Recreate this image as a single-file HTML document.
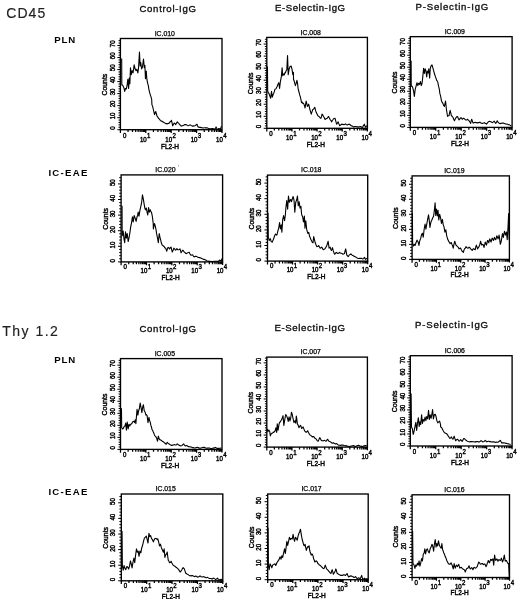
<!DOCTYPE html>
<html lang="en"><head><meta charset="utf-8"><title>Figure</title>
<style>
html,body{margin:0;padding:0;background:#fff;}
body{width:520px;height:599px;overflow:hidden;}
svg{display:block;filter:grayscale(1) blur(0.3px);font-family:"Liberation Sans",sans-serif;}
.ax{stroke:#000;stroke-width:1.35;fill:none;stroke-linecap:square}
.tk{stroke:#000;stroke-width:1.0;fill:none}.tkx{stroke:#000;stroke-width:1.25;fill:none}
.cv{stroke:#000;stroke-width:1.1;fill:none;stroke-linejoin:round}
.tl{font-size:6.5px;fill:#000;stroke:#000;stroke-width:0.4px}
.al{font-size:6.9px;fill:#000;stroke:#000;stroke-width:0.4px}.fl{font-size:6.5px;fill:#000;stroke:#000;stroke-width:0.4px}
.tt{font-size:6.9px;fill:#000;stroke:#000;stroke-width:0.25px}
.ch{font-size:9.6px;fill:#111;stroke:#111;stroke-width:0.35px}
.rl{font-size:9.6px;font-weight:bold;fill:#000}
.big{font-size:14px;fill:#222;stroke:#222;stroke-width:0.15px}
</style></head><body>
<svg width="520" height="599" viewBox="0 0 520 599">
<rect width="520" height="599" fill="#fff"/>
<g><rect class="ax" x="120.4" y="38.5" width="101.6" height="91.2"/><path class="tk" d="M120.4 129.7h-3.1M120.4 127.29h-1.9M120.4 124.89h-1.9M120.4 122.48h-1.9M120.4 120.08h-1.9M120.4 117.67h-3.1M120.4 115.26h-1.9M120.4 112.86h-1.9M120.4 110.45h-1.9M120.4 108.05h-1.9M120.4 105.64h-3.1M120.4 103.23h-1.9M120.4 100.83h-1.9M120.4 98.42h-1.9M120.4 96.02h-1.9M120.4 93.61h-3.1M120.4 91.2h-1.9M120.4 88.8h-1.9M120.4 86.39h-1.9M120.4 83.99h-1.9M120.4 81.58h-3.1M120.4 79.17h-1.9M120.4 76.77h-1.9M120.4 74.36h-1.9M120.4 71.96h-1.9M120.4 69.55h-3.1M120.4 67.14h-1.9M120.4 64.74h-1.9M120.4 62.33h-1.9M120.4 59.93h-1.9M120.4 57.52h-3.1M120.4 55.11h-1.9M120.4 52.71h-1.9M120.4 50.3h-1.9M120.4 47.9h-1.9M120.4 45.49h-3.1M120.4 43.08h-1.9M120.4 40.68h-1.9"/><path class="tkx" d="M120.4 129.7v3.3M128.05 129.7v2.3M132.52 129.7v2.3M135.69 129.7v2.3M138.15 129.7v2.3M140.17 129.7v2.3M141.87 129.7v2.3M143.34 129.7v2.3M144.64 129.7v2.3M145.8 129.7v3.3M153.45 129.7v2.3M157.92 129.7v2.3M161.09 129.7v2.3M163.55 129.7v2.3M165.57 129.7v2.3M167.27 129.7v2.3M168.74 129.7v2.3M170.04 129.7v2.3M171.2 129.7v3.3M178.85 129.7v2.3M183.32 129.7v2.3M186.49 129.7v2.3M188.95 129.7v2.3M190.97 129.7v2.3M192.67 129.7v2.3M194.14 129.7v2.3M195.44 129.7v2.3M196.6 129.7v3.3M204.25 129.7v2.3M208.72 129.7v2.3M211.89 129.7v2.3M214.35 129.7v2.3M216.37 129.7v2.3M218.07 129.7v2.3M219.54 129.7v2.3M220.84 129.7v2.3M222 129.7v3.2"/><text class="tl" transform="translate(114.7 128) rotate(-90) scale(0.94 1)" text-anchor="middle">0</text><text class="tl" transform="translate(114.7 115.97) rotate(-90) scale(0.94 1)" text-anchor="middle">10</text><text class="tl" transform="translate(114.7 103.94) rotate(-90) scale(0.94 1)" text-anchor="middle">20</text><text class="tl" transform="translate(114.7 91.91) rotate(-90) scale(0.94 1)" text-anchor="middle">30</text><text class="tl" transform="translate(114.7 79.88) rotate(-90) scale(0.94 1)" text-anchor="middle">40</text><text class="tl" transform="translate(114.7 67.85) rotate(-90) scale(0.94 1)" text-anchor="middle">50</text><text class="tl" transform="translate(114.7 55.82) rotate(-90) scale(0.94 1)" text-anchor="middle">60</text><text class="tl" transform="translate(114.7 43.79) rotate(-90) scale(0.94 1)" text-anchor="middle">70</text><text class="al" transform="translate(106.9 84.6) rotate(-90)" text-anchor="middle">Counts</text><text class="tl" transform="translate(124.6 137.7) scale(0.94 1)" text-anchor="middle">0</text><text class="tl" transform="translate(146.7 141.6) scale(0.94 1)" text-anchor="end">10</text><text class="tl" transform="translate(147 137.7) scale(0.94 1)">1</text><text class="tl" transform="translate(172.1 141.6) scale(0.94 1)" text-anchor="end">10</text><text class="tl" transform="translate(172.4 137.7) scale(0.94 1)">2</text><text class="tl" transform="translate(197.5 141.6) scale(0.94 1)" text-anchor="end">10</text><text class="tl" transform="translate(197.8 137.7) scale(0.94 1)">3</text><text class="tl" transform="translate(222.9 141.6) scale(0.94 1)" text-anchor="end">10</text><text class="tl" transform="translate(223.2 137.7) scale(0.94 1)">4</text><text class="fl" x="170" y="148.6" text-anchor="middle">FL2-H</text><text class="tt" x="164.8" y="35.8" text-anchor="middle">IC.010</text><polyline class="cv" points="121.69,58.46 121.81,85 122.5,85.13 123.19,86.15 123.94,87.91 124.69,91.35 125.5,88.46 126.31,89.04 127.23,84.42 127.81,79.23 128.62,88.46 129.19,78.08 129.88,83.85 130.46,67.69 131.27,74.62 132.08,70.58 133,72.88 133.58,69.36 134.15,64.81 135.08,68.85 135.88,70.58 136.81,69.42 137.85,72.88 138.54,67.69 139.46,52.12 140.15,65.96 140.73,62.5 141.65,68.85 142.46,67.12 143.5,59.04 144.31,67.69 144.88,65.38 145.46,78.65 146.27,71.15 146.85,79.23 147.77,83.85 148.35,85.66 148.92,89.62 149.62,92.29 150.31,94.81 151,96.85 151.69,99.42 151.92,104.62 152.69,106.66 153.46,110 154,112.32 154.54,114.62 155.15,112.53 155.77,111.54 156.38,113.77 157,116.15 157.77,116.89 158.54,118.46 159.15,118.72 159.77,119.63 160.38,120.31 161.15,121.08 161.92,121.04 162.69,121.85 163.46,122.06 164.23,122.76 165,123.08 165.77,123.63 166.54,123.64 167.31,123.85 168.08,123.42 168.85,123.45 169.62,122.77 170.23,121.61 170.85,121.41 171.46,120.31 172.08,122.93 172.69,125.85 173.46,124.24 174.23,123.08 175,123.6 175.77,124.62 176.54,123.1 177.31,121.85 177.92,122.74 178.54,122.96 179.15,123.85 179.82,124.66 180.49,125.46 181.15,126.15 181.92,125.83 182.69,125.67 183.46,125.38 184.23,124.88 185,124.61 185.77,124.62 186.54,124.8 187.31,125.44 188.08,125.69 188.85,125.4 189.62,125.07 190.38,124.92 191.15,125.38 191.92,125.72 192.69,126.15 193.46,125.89 194.23,126.01 195,125.69 195.67,125.34 196.33,124.62 197,124.31 197.54,125.66 198.08,126.92 198.85,127.09 199.62,127.41 200.38,127.38 201.15,127.64 201.92,127.6 202.69,128.06 203.46,128 204.23,127.76 205,127.81 205.77,127.88 206.54,127.69 207.31,127.85 208.08,128.3 208.85,128.43 209.62,128.92 210.38,128.87 211.15,128.8 211.92,128.61 212.69,128.46 213.46,128.87 214.23,128.9 215,129.23 215.54,128.16 216.08,126.92 216.69,128.27 217.31,129.4 218.08,129.03 218.85,128.46 219.62,128.67 220.38,128.92 220.92,127.69 221.46,126.15"/></g><g><rect class="ax" x="266.8" y="37.4" width="100.6" height="90.9"/><path class="tk" d="M266.8 128.3h-3.1M266.8 125.89h-1.9M266.8 123.49h-1.9M266.8 121.08h-1.9M266.8 118.68h-1.9M266.8 116.27h-3.1M266.8 113.86h-1.9M266.8 111.46h-1.9M266.8 109.05h-1.9M266.8 106.65h-1.9M266.8 104.24h-3.1M266.8 101.83h-1.9M266.8 99.43h-1.9M266.8 97.02h-1.9M266.8 94.62h-1.9M266.8 92.21h-3.1M266.8 89.8h-1.9M266.8 87.4h-1.9M266.8 84.99h-1.9M266.8 82.59h-1.9M266.8 80.18h-3.1M266.8 77.77h-1.9M266.8 75.37h-1.9M266.8 72.96h-1.9M266.8 70.56h-1.9M266.8 68.15h-3.1M266.8 65.74h-1.9M266.8 63.34h-1.9M266.8 60.93h-1.9M266.8 58.53h-1.9M266.8 56.12h-3.1M266.8 53.71h-1.9M266.8 51.31h-1.9M266.8 48.9h-1.9M266.8 46.5h-1.9M266.8 44.09h-3.1M266.8 41.68h-1.9M266.8 39.28h-1.9"/><path class="tkx" d="M266.8 128.3v3.3M274.37 128.3v2.3M278.8 128.3v2.3M281.94 128.3v2.3M284.38 128.3v2.3M286.37 128.3v2.3M288.05 128.3v2.3M289.51 128.3v2.3M290.8 128.3v2.3M291.95 128.3v3.3M299.52 128.3v2.3M303.95 128.3v2.3M307.09 128.3v2.3M309.53 128.3v2.3M311.52 128.3v2.3M313.2 128.3v2.3M314.66 128.3v2.3M315.95 128.3v2.3M317.1 128.3v3.3M324.67 128.3v2.3M329.1 128.3v2.3M332.24 128.3v2.3M334.68 128.3v2.3M336.67 128.3v2.3M338.35 128.3v2.3M339.81 128.3v2.3M341.1 128.3v2.3M342.25 128.3v3.3M349.82 128.3v2.3M354.25 128.3v2.3M357.39 128.3v2.3M359.83 128.3v2.3M361.82 128.3v2.3M363.5 128.3v2.3M364.96 128.3v2.3M366.25 128.3v2.3M367.4 128.3v3.2"/><text class="tl" transform="translate(261.1 126.6) rotate(-90) scale(0.94 1)" text-anchor="middle">0</text><text class="tl" transform="translate(261.1 114.57) rotate(-90) scale(0.94 1)" text-anchor="middle">10</text><text class="tl" transform="translate(261.1 102.54) rotate(-90) scale(0.94 1)" text-anchor="middle">20</text><text class="tl" transform="translate(261.1 90.51) rotate(-90) scale(0.94 1)" text-anchor="middle">30</text><text class="tl" transform="translate(261.1 78.48) rotate(-90) scale(0.94 1)" text-anchor="middle">40</text><text class="tl" transform="translate(261.1 66.45) rotate(-90) scale(0.94 1)" text-anchor="middle">50</text><text class="tl" transform="translate(261.1 54.42) rotate(-90) scale(0.94 1)" text-anchor="middle">60</text><text class="tl" transform="translate(261.1 42.39) rotate(-90) scale(0.94 1)" text-anchor="middle">70</text><text class="al" transform="translate(253.3 83.35) rotate(-90)" text-anchor="middle">Counts</text><text class="tl" transform="translate(271 136.3) scale(0.94 1)" text-anchor="middle">0</text><text class="tl" transform="translate(292.85 140.2) scale(0.94 1)" text-anchor="end">10</text><text class="tl" transform="translate(293.15 136.3) scale(0.94 1)">1</text><text class="tl" transform="translate(318 140.2) scale(0.94 1)" text-anchor="end">10</text><text class="tl" transform="translate(318.3 136.3) scale(0.94 1)">2</text><text class="tl" transform="translate(343.15 140.2) scale(0.94 1)" text-anchor="end">10</text><text class="tl" transform="translate(343.45 136.3) scale(0.94 1)">3</text><text class="tl" transform="translate(368.3 140.2) scale(0.94 1)" text-anchor="end">10</text><text class="tl" transform="translate(368.6 136.3) scale(0.94 1)">4</text><text class="fl" x="315.9" y="147.2" text-anchor="middle">FL2-H</text><text class="tt" x="310.7" y="34.7" text-anchor="middle">IC.008</text><polyline class="cv" points="267.46,66.54 267.69,90.77 268.27,92.89 268.85,93.08 269.42,94.76 270,96.54 270.69,98.27 271.5,91.35 272.31,97.12 273.23,94.23 273.81,93.14 274.38,91.35 274.96,89.2 275.54,89.04 276.12,88.65 276.69,87.31 277.27,86.23 277.85,84.42 278.77,82.69 279.58,88.46 280.38,81.54 281.31,76.92 282.12,67.69 282.69,75.77 283.62,74.04 284.19,74.99 284.77,72.88 285.35,73.04 285.92,71.15 286.85,69.42 287.54,55.58 288.23,74.62 289.15,68.85 290.08,66.54 291.12,65.96 292.04,69.42 292.85,74.62 293.42,72.31 293.54,79.54 294.15,81.01 294.77,83.35 295.38,85.69 296.15,83.44 296.92,80.31 297.54,83.33 298.15,88.77 298.92,91.76 299.69,94.92 300.31,96.86 300.92,99.38 301.54,102.62 302.21,102.16 302.87,103.56 303.54,103.38 304.31,105.14 305.08,108 305.62,104.15 306.15,101.08 306.77,103.6 307.38,106.46 308,105.86 308.62,104.15 309.15,105.86 309.69,108.77 310.46,111.4 311.23,114.15 312,111.9 312.77,109.54 313.44,109.28 314.1,108.44 314.77,107.23 315.54,110.38 316.31,112.62 317.08,113.92 317.85,115.69 318.46,116.12 319.08,116.59 319.69,117.23 320.31,118.11 320.92,118.31 321.46,116.67 322,114.15 322.77,114.96 323.54,116.46 324.31,117.72 325.08,119.54 325.74,118.91 326.41,118.5 327.08,118.31 327.85,117.37 328.62,116.46 329.38,118.08 330.15,119.54 330.92,120.52 331.69,121.85 332.31,120.46 332.92,119.73 333.54,118.77 334.31,118.43 335.08,118.31 335.85,121.28 336.62,124.15 337.38,123.28 338.15,121.85 338.92,123.88 339.69,125.69 340.31,125.19 340.92,124.73 341.54,124.15 342.21,124.4 342.87,124.22 343.54,124.62 344.21,124.58 344.87,124.26 345.54,123.85 346.15,124.41 346.77,124.72 347.38,124.92 348,124.61 348.62,124.36 349.23,124.15 349.9,124.46 350.56,125.25 351.23,125.69 352,125.9 352.77,126.32 353.54,126.92 354.31,126.65 355.08,126.47 355.85,126.46 356.62,126.65 357.38,126.79 358.15,127.23 358.92,126.82 359.69,126.67 360.46,126.62 361.13,126.76 361.79,127.18 362.46,127.54 363.08,126.2 363.69,125.47 364.31,124.15 364.92,125.75 365.54,127.23 366.31,126.31 367.08,125.69"/></g><g><rect class="ax" x="410.3" y="36.65" width="101.8" height="90.75"/><path class="tk" d="M410.3 127.4h-3.1M410.3 124.99h-1.9M410.3 122.59h-1.9M410.3 120.18h-1.9M410.3 117.78h-1.9M410.3 115.37h-3.1M410.3 112.96h-1.9M410.3 110.56h-1.9M410.3 108.15h-1.9M410.3 105.75h-1.9M410.3 103.34h-3.1M410.3 100.93h-1.9M410.3 98.53h-1.9M410.3 96.12h-1.9M410.3 93.72h-1.9M410.3 91.31h-3.1M410.3 88.9h-1.9M410.3 86.5h-1.9M410.3 84.09h-1.9M410.3 81.69h-1.9M410.3 79.28h-3.1M410.3 76.87h-1.9M410.3 74.47h-1.9M410.3 72.06h-1.9M410.3 69.66h-1.9M410.3 67.25h-3.1M410.3 64.84h-1.9M410.3 62.44h-1.9M410.3 60.03h-1.9M410.3 57.63h-1.9M410.3 55.22h-3.1M410.3 52.81h-1.9M410.3 50.41h-1.9M410.3 48h-1.9M410.3 45.6h-1.9M410.3 43.19h-3.1M410.3 40.78h-1.9M410.3 38.38h-1.9"/><path class="tkx" d="M410.3 127.4v3.3M417.96 127.4v2.3M422.44 127.4v2.3M425.62 127.4v2.3M428.09 127.4v2.3M430.1 127.4v2.3M431.81 127.4v2.3M433.28 127.4v2.3M434.59 127.4v2.3M435.75 127.4v3.3M443.41 127.4v2.3M447.89 127.4v2.3M451.07 127.4v2.3M453.54 127.4v2.3M455.55 127.4v2.3M457.26 127.4v2.3M458.73 127.4v2.3M460.04 127.4v2.3M461.2 127.4v3.3M468.86 127.4v2.3M473.34 127.4v2.3M476.52 127.4v2.3M478.99 127.4v2.3M481 127.4v2.3M482.71 127.4v2.3M484.18 127.4v2.3M485.49 127.4v2.3M486.65 127.4v3.3M494.31 127.4v2.3M498.79 127.4v2.3M501.97 127.4v2.3M504.44 127.4v2.3M506.45 127.4v2.3M508.16 127.4v2.3M509.63 127.4v2.3M510.94 127.4v2.3M512.1 127.4v3.2"/><text class="tl" transform="translate(404.6 125.7) rotate(-90) scale(0.94 1)" text-anchor="middle">0</text><text class="tl" transform="translate(404.6 113.67) rotate(-90) scale(0.94 1)" text-anchor="middle">10</text><text class="tl" transform="translate(404.6 101.64) rotate(-90) scale(0.94 1)" text-anchor="middle">20</text><text class="tl" transform="translate(404.6 89.61) rotate(-90) scale(0.94 1)" text-anchor="middle">30</text><text class="tl" transform="translate(404.6 77.58) rotate(-90) scale(0.94 1)" text-anchor="middle">40</text><text class="tl" transform="translate(404.6 65.55) rotate(-90) scale(0.94 1)" text-anchor="middle">50</text><text class="tl" transform="translate(404.6 53.52) rotate(-90) scale(0.94 1)" text-anchor="middle">60</text><text class="tl" transform="translate(404.6 41.49) rotate(-90) scale(0.94 1)" text-anchor="middle">70</text><text class="al" transform="translate(396.8 82.53) rotate(-90)" text-anchor="middle">Counts</text><text class="tl" transform="translate(414.5 135.4) scale(0.94 1)" text-anchor="middle">0</text><text class="tl" transform="translate(436.65 139.3) scale(0.94 1)" text-anchor="end">10</text><text class="tl" transform="translate(436.95 135.4) scale(0.94 1)">1</text><text class="tl" transform="translate(462.1 139.3) scale(0.94 1)" text-anchor="end">10</text><text class="tl" transform="translate(462.4 135.4) scale(0.94 1)">2</text><text class="tl" transform="translate(487.55 139.3) scale(0.94 1)" text-anchor="end">10</text><text class="tl" transform="translate(487.85 135.4) scale(0.94 1)">3</text><text class="tl" transform="translate(513 139.3) scale(0.94 1)" text-anchor="end">10</text><text class="tl" transform="translate(513.3 135.4) scale(0.94 1)">4</text><text class="fl" x="460" y="146.3" text-anchor="middle">FL2-H</text><text class="tt" x="454.8" y="33.95" text-anchor="middle">IC.009</text><polyline class="cv" points="411.12,60.77 411.23,86.15 411.92,86.14 412.62,87.31 413.54,90.77 414.35,96.54 415.15,89.62 416.08,86.15 417,82.69 417.81,85.58 418.62,83.27 419.54,84.42 420.46,81.54 421.27,85.58 422.08,83.27 422.77,76.92 423.58,68.27 424.38,73.46 425.08,68.85 425.88,70.58 426.69,76.92 427.38,71.15 428.19,72.88 428.77,68.85 429.69,78.08 430.27,68.27 431.08,65.96 432,64.81 432.81,67.69 433.62,70.58 434.54,74.04 435.46,76.92 436.04,78.23 436.62,80.38 437.19,80.89 437.77,82.12 438.58,86.15 439.38,89.62 439.85,93.38 440.62,96.14 441.38,100.31 442.15,102.41 442.92,103.38 443.69,105.65 444.46,106.46 445,103.72 445.54,101.08 446.46,109.54 447,112.98 447.54,116.46 448.31,115.7 449.08,115.69 449.62,112.57 450.15,110.31 450.77,112.83 451.38,115.69 452.15,116.25 452.92,117.23 453.69,119.25 454.46,120.77 455.23,118.97 456,117.69 456.77,116.66 457.54,116.46 458.31,118.52 459.08,119.85 459.69,119.15 460.31,118.13 460.92,117.69 461.69,118.5 462.46,119.23 463.23,118.4 464,118.31 464.77,119.1 465.54,119.85 466.21,119.99 466.87,119.71 467.54,119.23 468.31,120.14 469.08,120.77 469.85,121.93 470.62,123.38 471.15,121.22 471.69,119.23 472.31,120.86 472.92,122.92 473.69,122.88 474.46,122.53 475.23,122.31 476,122.68 476.77,122.62 477.54,122.92 478.31,122.5 479.08,122.6 479.85,122.15 480.62,122.85 481.38,123.18 482.15,123.38 482.92,123.3 483.69,123.06 484.46,122.62 485.13,123.26 485.79,123.49 486.46,124.15 487.08,123.39 487.69,122.53 488.31,121.85 488.92,121.45 489.54,121.34 490.15,121.54 490.82,121.76 491.49,122.11 492.15,122.62 492.82,122.22 493.49,121.88 494.15,121.08 494.92,122.2 495.69,123.38 496.46,122.35 497.23,120.77 498,122.15 498.77,122.92 499.38,123.43 500,123.36 500.62,123.69 501.38,123.33 502.15,123.13 502.92,123.08 503.69,123.17 504.46,123.43 505.23,123.85 506,124.01 506.77,124.26 507.54,124.15 508.31,124.63 509.08,124.76 509.85,125.08 510.62,125.61 511.38,126"/></g><g><rect class="ax" x="121.1" y="174.9" width="101.5" height="87"/><path class="tk" d="M121.1 261.9h-3.1M121.1 258.78h-1.9M121.1 255.66h-1.9M121.1 252.54h-1.9M121.1 249.42h-1.9M121.1 246.3h-3.1M121.1 243.18h-1.9M121.1 240.06h-1.9M121.1 236.94h-1.9M121.1 233.82h-1.9M121.1 230.7h-3.1M121.1 227.58h-1.9M121.1 224.46h-1.9M121.1 221.34h-1.9M121.1 218.22h-1.9M121.1 215.1h-3.1M121.1 211.98h-1.9M121.1 208.86h-1.9M121.1 205.74h-1.9M121.1 202.62h-1.9M121.1 199.5h-3.1M121.1 196.38h-1.9M121.1 193.26h-1.9M121.1 190.14h-1.9M121.1 187.02h-1.9M121.1 183.9h-3.1M121.1 180.78h-1.9M121.1 177.66h-1.9"/><path class="tkx" d="M121.1 261.9v3.3M128.74 261.9v2.3M133.21 261.9v2.3M136.38 261.9v2.3M138.84 261.9v2.3M140.85 261.9v2.3M142.54 261.9v2.3M144.02 261.9v2.3M145.31 261.9v2.3M146.47 261.9v3.3M154.11 261.9v2.3M158.58 261.9v2.3M161.75 261.9v2.3M164.21 261.9v2.3M166.22 261.9v2.3M167.92 261.9v2.3M169.39 261.9v2.3M170.69 261.9v2.3M171.85 261.9v3.3M179.49 261.9v2.3M183.96 261.9v2.3M187.13 261.9v2.3M189.59 261.9v2.3M191.6 261.9v2.3M193.29 261.9v2.3M194.77 261.9v2.3M196.06 261.9v2.3M197.22 261.9v3.3M204.86 261.9v2.3M209.33 261.9v2.3M212.5 261.9v2.3M214.96 261.9v2.3M216.97 261.9v2.3M218.67 261.9v2.3M220.14 261.9v2.3M221.44 261.9v2.3M222.6 261.9v3.2"/><text class="tl" transform="translate(114.8 260.7) rotate(-90) scale(0.94 1)" text-anchor="middle">0</text><text class="tl" transform="translate(114.8 245.1) rotate(-90) scale(0.94 1)" text-anchor="middle">10</text><text class="tl" transform="translate(114.8 229.5) rotate(-90) scale(0.94 1)" text-anchor="middle">20</text><text class="tl" transform="translate(114.8 213.9) rotate(-90) scale(0.94 1)" text-anchor="middle">30</text><text class="tl" transform="translate(114.8 198.3) rotate(-90) scale(0.94 1)" text-anchor="middle">40</text><text class="tl" transform="translate(114.8 182.7) rotate(-90) scale(0.94 1)" text-anchor="middle">50</text><text class="al" transform="translate(107.6 218.9) rotate(-90)" text-anchor="middle">Counts</text><text class="tl" transform="translate(125.3 269.2) scale(0.94 1)" text-anchor="middle">0</text><text class="tl" transform="translate(147.38 273.1) scale(0.94 1)" text-anchor="end">10</text><text class="tl" transform="translate(147.67 269.2) scale(0.94 1)">1</text><text class="tl" transform="translate(172.75 273.1) scale(0.94 1)" text-anchor="end">10</text><text class="tl" transform="translate(173.05 269.2) scale(0.94 1)">2</text><text class="tl" transform="translate(198.12 273.1) scale(0.94 1)" text-anchor="end">10</text><text class="tl" transform="translate(198.42 269.2) scale(0.94 1)">3</text><text class="tl" transform="translate(223.5 273.1) scale(0.94 1)" text-anchor="end">10</text><text class="tl" transform="translate(223.8 269.2) scale(0.94 1)">4</text><text class="fl" x="170.65" y="279.75" text-anchor="middle">FL2-H</text><text class="tt" x="165.45" y="172.2" text-anchor="middle">IC.020</text><polyline class="cv" points="122.04,205.77 122.15,235.77 123.19,231.15 124,239.23 124.69,242.69 125.5,231.73 126.31,238.08 127.23,233.46 128.15,241.54 128.96,238.08 129.54,235.13 130.12,231.15 130.69,226.84 131.27,224.23 131.85,220.87 132.42,216.73 133.23,221.92 134.15,215.58 135.08,217.88 136.12,221.35 137.04,216.73 137.62,215.54 138.19,212.12 139,216.15 139.92,210.38 140.85,206.35 141.65,202.31 142.46,194.81 143.38,199.42 144.31,205.19 144.88,208.37 145.46,209.81 146.27,208.08 147.08,212.12 147.77,215 148.58,207.5 149.38,212.12 150.31,209.81 150.88,211.69 151.46,212.12 152.38,216.73 153.19,223.08 153.38,228.92 153.92,226.18 154.46,223.54 155.23,225.94 156,229.69 156.62,233.67 157.23,236.62 157.77,239.45 158.31,242.77 159.23,233.54 159.92,237.1 160.62,239.69 161.38,243.01 162.15,245.08 162.82,245.47 163.49,245.99 164.15,246.62 164.92,247.87 165.69,248.15 166.23,249.91 166.77,251.23 167.38,248.98 168,247.38 168.77,247.77 169.54,248.92 170.31,247.64 171.08,247.08 171.69,249.93 172.31,252 173.08,250.37 173.85,248.15 174.62,248.8 175.38,250.15 176.15,249.7 176.92,248.62 177.69,249.63 178.46,249.69 179.23,249.46 180,248.92 180.54,250.71 181.08,252.77 181.85,251.5 182.62,250.15 183.38,250.75 184.15,252 184.92,252.38 185.69,253.54 186.36,253.65 187.03,253.14 187.69,252.77 188.46,252.56 189.23,252.31 190,254.02 190.77,255.08 191.38,254.93 192,255.13 192.62,254.77 193.38,256.06 194.15,256.92 194.77,256.54 195.38,256.36 196,256.31 196.67,256.54 197.33,256.87 198,257.38 198.77,257.59 199.54,257.56 200.31,257.85 201.08,258.16 201.85,258.37 202.62,258.92 203.38,259.38 204.15,259.37 204.92,259.69 205.69,260.08 206.46,260.55 207.23,260.92 208,261.18 208.77,261.1 209.54,261.23 210.31,261.47 211.08,261.39 211.85,261.47 212.62,261.54 213.38,261.47 214.15,261.2 214.92,261.28 215.69,261.23 216.46,261.21 217.23,261.25 218,261.54 218.77,260.89 219.54,260 220.31,260.48 221.08,261.23 221.69,259.68 222.31,258.15"/></g><g><rect class="ax" x="267.5" y="175.1" width="100.2" height="86"/><path class="tk" d="M267.5 261.1h-3.1M267.5 257.98h-1.9M267.5 254.86h-1.9M267.5 251.74h-1.9M267.5 248.62h-1.9M267.5 245.5h-3.1M267.5 242.38h-1.9M267.5 239.26h-1.9M267.5 236.14h-1.9M267.5 233.02h-1.9M267.5 229.9h-3.1M267.5 226.78h-1.9M267.5 223.66h-1.9M267.5 220.54h-1.9M267.5 217.42h-1.9M267.5 214.3h-3.1M267.5 211.18h-1.9M267.5 208.06h-1.9M267.5 204.94h-1.9M267.5 201.82h-1.9M267.5 198.7h-3.1M267.5 195.58h-1.9M267.5 192.46h-1.9M267.5 189.34h-1.9M267.5 186.22h-1.9M267.5 183.1h-3.1M267.5 179.98h-1.9M267.5 176.86h-1.9"/><path class="tkx" d="M267.5 261.1v3.3M275.04 261.1v2.3M279.45 261.1v2.3M282.58 261.1v2.3M285.01 261.1v2.3M286.99 261.1v2.3M288.67 261.1v2.3M290.12 261.1v2.3M291.4 261.1v2.3M292.55 261.1v3.3M300.09 261.1v2.3M304.5 261.1v2.3M307.63 261.1v2.3M310.06 261.1v2.3M312.04 261.1v2.3M313.72 261.1v2.3M315.17 261.1v2.3M316.45 261.1v2.3M317.6 261.1v3.3M325.14 261.1v2.3M329.55 261.1v2.3M332.68 261.1v2.3M335.11 261.1v2.3M337.09 261.1v2.3M338.77 261.1v2.3M340.22 261.1v2.3M341.5 261.1v2.3M342.65 261.1v3.3M350.19 261.1v2.3M354.6 261.1v2.3M357.73 261.1v2.3M360.16 261.1v2.3M362.14 261.1v2.3M363.82 261.1v2.3M365.27 261.1v2.3M366.55 261.1v2.3M367.7 261.1v3.2"/><text class="tl" transform="translate(261.2 259.9) rotate(-90) scale(0.94 1)" text-anchor="middle">0</text><text class="tl" transform="translate(261.2 244.3) rotate(-90) scale(0.94 1)" text-anchor="middle">10</text><text class="tl" transform="translate(261.2 228.7) rotate(-90) scale(0.94 1)" text-anchor="middle">20</text><text class="tl" transform="translate(261.2 213.1) rotate(-90) scale(0.94 1)" text-anchor="middle">30</text><text class="tl" transform="translate(261.2 197.5) rotate(-90) scale(0.94 1)" text-anchor="middle">40</text><text class="tl" transform="translate(261.2 181.9) rotate(-90) scale(0.94 1)" text-anchor="middle">50</text><text class="al" transform="translate(254 218.6) rotate(-90)" text-anchor="middle">Counts</text><text class="tl" transform="translate(271.7 268.4) scale(0.94 1)" text-anchor="middle">0</text><text class="tl" transform="translate(293.45 272.3) scale(0.94 1)" text-anchor="end">10</text><text class="tl" transform="translate(293.75 268.4) scale(0.94 1)">1</text><text class="tl" transform="translate(318.5 272.3) scale(0.94 1)" text-anchor="end">10</text><text class="tl" transform="translate(318.8 268.4) scale(0.94 1)">2</text><text class="tl" transform="translate(343.55 272.3) scale(0.94 1)" text-anchor="end">10</text><text class="tl" transform="translate(343.85 268.4) scale(0.94 1)">3</text><text class="tl" transform="translate(368.6 272.3) scale(0.94 1)" text-anchor="end">10</text><text class="tl" transform="translate(368.9 268.4) scale(0.94 1)">4</text><text class="fl" x="316.4" y="278.95" text-anchor="middle">FL2-H</text><text class="tt" x="311.2" y="172.4" text-anchor="middle">IC.018</text><polyline class="cv" points="268.04,212.69 268.27,236.92 269.19,240.38 269.77,239.84 270.35,238.65 271.15,241.54 271.73,241.9 272.31,242.12 272.88,240.43 273.46,239.23 274.04,237.53 274.62,235.77 275.54,234.04 276.12,234.71 276.69,235.19 277.27,233.67 277.85,231.15 278.77,227.69 279.58,222.5 280.38,228.85 281.31,224.81 281.88,232.31 282.69,219.62 283.62,215.58 284.54,220.77 285.35,215 285.92,207.5 286.73,200.58 287.65,209.23 288.46,195.96 289.38,202.31 290.31,200 290.88,199.54 291.46,201.73 292.27,198.85 293.08,196.54 294,200 294.81,212.12 295.73,202.31 296.65,200 297.46,195.96 298.27,205.77 299.19,201.73 300,208.08 300.92,206.35 301.62,214.42 302.65,216.73 303.46,221.92 304.38,216.15 304.96,228.27 305.77,220.77 306.69,229.42 307.27,231.55 307.85,233.46 308.77,232.31 309.58,236.35 310.15,237.41 310.73,239.23 311.31,240.08 311.88,241.54 312.46,242.47 313.04,242.69 313.69,236.62 314.46,239.7 315.23,242.77 316,244.76 316.77,246.62 317.38,246.54 318,246.36 318.62,245.54 319.38,246.79 320.15,248.15 320.92,247.73 321.69,247.08 322.46,248.39 323.23,249.69 324,249.32 324.77,248.92 325.38,248.19 326,247.03 326.62,246.15 327.38,243.73 328.15,241.23 329.08,248.15 329.62,247.59 330.15,247.08 330.77,249.2 331.38,250.46 331.92,249.27 332.46,247.69 333.08,250.19 333.69,252 334.23,253.48 334.77,254.31 335.54,253.13 336.31,252.31 337.08,252.97 337.85,253.54 338.62,253.26 339.38,252.31 340.15,253.03 340.92,253.23 341.59,253.33 342.26,253.68 342.92,254.31 343.69,253.88 344.46,253.54 345.08,250.87 345.69,248.92 346.23,251.79 346.77,255.08 347.46,255.58 348.15,256.62 348.77,255.8 349.38,254.77 350.15,254.5 350.92,253.85 351.69,254.88 352.46,255.38 353.08,255.48 353.69,256.13 354.31,256.31 354.97,256.76 355.64,256.83 356.31,257.38 357.08,257.94 357.85,258.34 358.62,258.46 359.38,258.22 360.15,258.48 360.92,258.15 361.59,258.36 362.26,258.66 362.92,258.92 363.69,258.4 364.46,257.38 365.08,258.55 365.69,259.38 366.38,258.61 367.08,258.15"/></g><g><rect class="ax" x="412.1" y="175.9" width="97.3" height="83.5"/><path class="tk" d="M412.1 259.4h-3.1M412.1 256.39h-1.9M412.1 253.39h-1.9M412.1 250.38h-1.9M412.1 247.38h-1.9M412.1 244.37h-3.1M412.1 241.37h-1.9M412.1 238.36h-1.9M412.1 235.35h-1.9M412.1 232.35h-1.9M412.1 229.34h-3.1M412.1 226.34h-1.9M412.1 223.33h-1.9M412.1 220.33h-1.9M412.1 217.32h-1.9M412.1 214.31h-3.1M412.1 211.31h-1.9M412.1 208.3h-1.9M412.1 205.3h-1.9M412.1 202.29h-1.9M412.1 199.29h-3.1M412.1 196.28h-1.9M412.1 193.27h-1.9M412.1 190.27h-1.9M412.1 187.26h-1.9M412.1 184.26h-3.1M412.1 181.25h-1.9M412.1 178.25h-1.9"/><path class="tkx" d="M412.1 259.4v3.3M419.42 259.4v2.3M423.71 259.4v2.3M426.75 259.4v2.3M429.1 259.4v2.3M431.03 259.4v2.3M432.66 259.4v2.3M434.07 259.4v2.3M435.31 259.4v2.3M436.43 259.4v3.3M443.75 259.4v2.3M448.03 259.4v2.3M451.07 259.4v2.3M453.43 259.4v2.3M455.35 259.4v2.3M456.98 259.4v2.3M458.39 259.4v2.3M459.64 259.4v2.3M460.75 259.4v3.3M468.07 259.4v2.3M472.36 259.4v2.3M475.4 259.4v2.3M477.75 259.4v2.3M479.68 259.4v2.3M481.31 259.4v2.3M482.72 259.4v2.3M483.96 259.4v2.3M485.07 259.4v3.3M492.4 259.4v2.3M496.68 259.4v2.3M499.72 259.4v2.3M502.08 259.4v2.3M504 259.4v2.3M505.63 259.4v2.3M507.04 259.4v2.3M508.29 259.4v2.3M509.4 259.4v3.2"/><text class="tl" transform="translate(405.8 258.2) rotate(-90) scale(0.94 1)" text-anchor="middle">0</text><text class="tl" transform="translate(405.8 243.17) rotate(-90) scale(0.94 1)" text-anchor="middle">10</text><text class="tl" transform="translate(405.8 228.14) rotate(-90) scale(0.94 1)" text-anchor="middle">20</text><text class="tl" transform="translate(405.8 213.11) rotate(-90) scale(0.94 1)" text-anchor="middle">30</text><text class="tl" transform="translate(405.8 198.09) rotate(-90) scale(0.94 1)" text-anchor="middle">40</text><text class="tl" transform="translate(405.8 183.06) rotate(-90) scale(0.94 1)" text-anchor="middle">50</text><text class="al" transform="translate(397.9 218.15) rotate(-90)" text-anchor="middle">Counts</text><text class="tl" transform="translate(416.3 266.7) scale(0.94 1)" text-anchor="middle">0</text><text class="tl" transform="translate(437.32 270.6) scale(0.94 1)" text-anchor="end">10</text><text class="tl" transform="translate(437.62 266.7) scale(0.94 1)">1</text><text class="tl" transform="translate(461.65 270.6) scale(0.94 1)" text-anchor="end">10</text><text class="tl" transform="translate(461.95 266.7) scale(0.94 1)">2</text><text class="tl" transform="translate(485.97 270.6) scale(0.94 1)" text-anchor="end">10</text><text class="tl" transform="translate(486.27 266.7) scale(0.94 1)">3</text><text class="tl" transform="translate(510.3 270.6) scale(0.94 1)" text-anchor="end">10</text><text class="tl" transform="translate(510.6 266.7) scale(0.94 1)">4</text><text class="fl" x="459.55" y="277.25" text-anchor="middle">FL2-H</text><text class="tt" x="454.35" y="173.2" text-anchor="middle">IC.019</text><polyline class="cv" points="412.38,213.08 412.62,243.08 413.54,245.96 414.35,244.23 415.15,245.38 416.08,242.5 417,240.19 417.58,240.97 418.15,241.92 418.96,245.38 419.77,240.77 420.69,238.46 421.62,234.42 422.42,233.27 423.23,237.31 424.15,229.23 425.08,224.04 425.88,229.23 426.69,224.62 427.62,219.42 428.54,214.81 429.35,221.15 429.92,227.5 430.85,222.31 431.65,220.58 432.58,218.27 433.62,215.96 434.31,210.77 435.12,202.69 435.69,215.38 436.5,209.04 437.31,215.96 438,210.19 438.81,220 439.62,214.23 440.54,217.69 441.46,223.46 442.38,219.42 443.19,224.62 444,226.92 444.92,232.12 445.85,229.81 446.65,235.58 447.23,237.62 447.81,239.62 448.38,240.56 448.96,241.92 449.54,242.43 450.12,243.65 450.69,242.87 451.27,242.5 451.85,244.19 452.42,245.38 453.23,248.15 454,244.17 454.77,241.23 455.38,243.22 456,245.08 456.77,245.78 457.54,246.62 458.31,247.32 459.08,248.92 459.85,248.39 460.62,248.15 461.38,249.8 462.15,251.23 462.77,251.78 463.38,252.31 463.92,250.27 464.46,248.92 465.23,248.22 466,246.62 466.77,247.66 467.54,248.15 468.31,248.06 469.08,247.08 469.85,247.64 470.62,248.92 471.38,249.5 472.15,250.46 472.92,249.15 473.69,248.62 474.46,249.39 475.23,249.69 475.77,247.17 476.31,245.08 476.92,246.64 477.54,248.92 478.31,247.7 479.08,246.62 479.85,244.39 480.62,241.23 481.15,243.52 481.69,245.08 482.31,244.43 482.92,244.31 483.46,245.49 484,247.38 484.62,245.15 485.23,242 485.85,243.62 486.46,245.08 487,243.01 487.54,240.46 488.15,241.11 488.77,242.77 489.31,240.28 489.85,238.92 490.46,240.71 491.08,242 491.62,239.98 492.15,238.15 492.77,238.73 493.38,240.46 493.92,239.53 494.46,237.38 495.08,238.73 495.69,239.69 496.23,238.2 496.77,235.85 497.38,236.78 498,238.92 498.54,237.52 499.08,235.08 499.69,239.11 500.31,244.31 500.85,242.82 501.38,240.46 501.92,236.93 502.46,233.54 503.38,237.38 503.92,234.05 504.46,231.23 505,233.24 505.54,235.08 506.46,232 507.23,239.69 508,227.38 508.62,213.54 509.23,239.69"/></g><g><rect class="ax" x="120.5" y="358.6" width="101.5" height="90.8"/><path class="tk" d="M120.5 449.4h-3.1M120.5 446.99h-1.9M120.5 444.59h-1.9M120.5 442.18h-1.9M120.5 439.78h-1.9M120.5 437.37h-3.1M120.5 434.96h-1.9M120.5 432.56h-1.9M120.5 430.15h-1.9M120.5 427.75h-1.9M120.5 425.34h-3.1M120.5 422.93h-1.9M120.5 420.53h-1.9M120.5 418.12h-1.9M120.5 415.72h-1.9M120.5 413.31h-3.1M120.5 410.9h-1.9M120.5 408.5h-1.9M120.5 406.09h-1.9M120.5 403.69h-1.9M120.5 401.28h-3.1M120.5 398.87h-1.9M120.5 396.47h-1.9M120.5 394.06h-1.9M120.5 391.66h-1.9M120.5 389.25h-3.1M120.5 386.84h-1.9M120.5 384.44h-1.9M120.5 382.03h-1.9M120.5 379.63h-1.9M120.5 377.22h-3.1M120.5 374.81h-1.9M120.5 372.41h-1.9M120.5 370h-1.9M120.5 367.6h-1.9M120.5 365.19h-3.1M120.5 362.78h-1.9M120.5 360.38h-1.9"/><path class="tkx" d="M120.5 449.4v3.3M128.14 449.4v2.3M132.61 449.4v2.3M135.78 449.4v2.3M138.24 449.4v2.3M140.25 449.4v2.3M141.94 449.4v2.3M143.42 449.4v2.3M144.71 449.4v2.3M145.88 449.4v3.3M153.51 449.4v2.3M157.98 449.4v2.3M161.15 449.4v2.3M163.61 449.4v2.3M165.62 449.4v2.3M167.32 449.4v2.3M168.79 449.4v2.3M170.09 449.4v2.3M171.25 449.4v3.3M178.89 449.4v2.3M183.36 449.4v2.3M186.53 449.4v2.3M188.99 449.4v2.3M191 449.4v2.3M192.69 449.4v2.3M194.17 449.4v2.3M195.46 449.4v2.3M196.62 449.4v3.3M204.26 449.4v2.3M208.73 449.4v2.3M211.9 449.4v2.3M214.36 449.4v2.3M216.37 449.4v2.3M218.07 449.4v2.3M219.54 449.4v2.3M220.84 449.4v2.3M222 449.4v3.2"/><text class="tl" transform="translate(114.8 447.7) rotate(-90) scale(0.94 1)" text-anchor="middle">0</text><text class="tl" transform="translate(114.8 435.67) rotate(-90) scale(0.94 1)" text-anchor="middle">10</text><text class="tl" transform="translate(114.8 423.64) rotate(-90) scale(0.94 1)" text-anchor="middle">20</text><text class="tl" transform="translate(114.8 411.61) rotate(-90) scale(0.94 1)" text-anchor="middle">30</text><text class="tl" transform="translate(114.8 399.58) rotate(-90) scale(0.94 1)" text-anchor="middle">40</text><text class="tl" transform="translate(114.8 387.55) rotate(-90) scale(0.94 1)" text-anchor="middle">50</text><text class="tl" transform="translate(114.8 375.52) rotate(-90) scale(0.94 1)" text-anchor="middle">60</text><text class="tl" transform="translate(114.8 363.49) rotate(-90) scale(0.94 1)" text-anchor="middle">70</text><text class="al" transform="translate(107 404.5) rotate(-90)" text-anchor="middle">Counts</text><text class="tl" transform="translate(124.7 457.4) scale(0.94 1)" text-anchor="middle">0</text><text class="tl" transform="translate(146.78 461.3) scale(0.94 1)" text-anchor="end">10</text><text class="tl" transform="translate(147.07 457.4) scale(0.94 1)">1</text><text class="tl" transform="translate(172.15 461.3) scale(0.94 1)" text-anchor="end">10</text><text class="tl" transform="translate(172.45 457.4) scale(0.94 1)">2</text><text class="tl" transform="translate(197.53 461.3) scale(0.94 1)" text-anchor="end">10</text><text class="tl" transform="translate(197.82 457.4) scale(0.94 1)">3</text><text class="tl" transform="translate(222.9 461.3) scale(0.94 1)" text-anchor="end">10</text><text class="tl" transform="translate(223.2 457.4) scale(0.94 1)">4</text><text class="fl" x="170.05" y="468.3" text-anchor="middle">FL2-H</text><text class="tt" x="164.85" y="355.9" text-anchor="middle">IC.005</text><polyline class="cv" points="121.46,408.15 121.69,427.77 122.62,428.92 123.19,428.66 123.77,427.19 124.35,426.27 124.92,426.04 125.73,423.15 126.42,430.08 127.23,422 128.15,428.92 128.96,424.31 129.77,426.04 130.35,424.59 130.92,424.31 131.5,423.77 132.08,423.15 132.65,421.84 133.23,421.42 133.81,421.33 134.38,422.58 135.31,419.69 135.88,423.73 136.46,416.23 137.04,409.31 137.85,415.08 138.54,411.04 139.35,408.73 140.15,402.96 141.08,407.58 141.88,412.77 142.58,407.58 143.38,404.69 144.19,410.46 145.12,412.19 145.92,415.08 146.5,414.67 147.08,415.65 148,422.58 148.92,417.38 149.73,420.85 150.31,422.41 150.88,425.46 151.46,427.05 152.04,429.5 152.62,430.41 153.19,431.81 153.77,433.02 154.35,434.69 154.92,435.83 155.5,436.42 156.08,437.09 156.65,438.15 157.54,441.23 158.31,436.15 158.92,437.92 159.54,439.69 160.31,439.74 161.08,440.31 161.85,440.8 162.62,441.54 163.28,441.71 163.95,442.39 164.62,443.08 165.38,443.38 166.15,444.31 166.69,443.46 167.23,442.31 168,443.11 168.77,443.85 169.54,444.2 170.31,444.92 170.97,445.06 171.64,445.47 172.31,445.38 172.92,444.91 173.54,445.06 174.15,444.62 174.77,444.73 175.38,444.92 176,445.08 176.62,444.66 177.23,443.85 178,444.4 178.77,445.08 179.54,445.47 180.31,445.85 180.92,445.79 181.54,445.8 182.15,445.38 182.92,444.52 183.69,443.85 184.46,445.04 185.23,445.85 186,445.73 186.77,445.38 187.54,446.07 188.31,446.62 188.97,446.67 189.64,446.75 190.31,446.92 191.08,446.97 191.85,447.27 192.62,447.69 193.38,447.61 194.15,448 194.92,448 195.69,447.69 196.46,447.44 197.23,447.38 198,447.46 198.77,448.04 199.54,448.15 200.31,448.16 201.08,447.92 201.85,447.69 202.62,447.49 203.38,447.37 204.15,447.38 204.92,447.6 205.69,447.98 206.46,448.31 207.23,448.06 208,448.08 208.77,448 209.54,448.06 210.31,448.49 211.08,448.46 211.85,448.55 212.62,448.28 213.38,448.15 214.05,447.79 214.72,447.84 215.38,447.38 216,447.71 216.62,448.15 217.23,448.62 218,448.32 218.77,448.36 219.54,448.31 220.21,448.19 220.87,448.1 221.54,448"/></g><g><rect class="ax" x="266.8" y="357.1" width="100.6" height="90"/><path class="tk" d="M266.8 447.1h-3.1M266.8 444.69h-1.9M266.8 442.29h-1.9M266.8 439.88h-1.9M266.8 437.48h-1.9M266.8 435.07h-3.1M266.8 432.66h-1.9M266.8 430.26h-1.9M266.8 427.85h-1.9M266.8 425.45h-1.9M266.8 423.04h-3.1M266.8 420.63h-1.9M266.8 418.23h-1.9M266.8 415.82h-1.9M266.8 413.42h-1.9M266.8 411.01h-3.1M266.8 408.6h-1.9M266.8 406.2h-1.9M266.8 403.79h-1.9M266.8 401.39h-1.9M266.8 398.98h-3.1M266.8 396.57h-1.9M266.8 394.17h-1.9M266.8 391.76h-1.9M266.8 389.36h-1.9M266.8 386.95h-3.1M266.8 384.54h-1.9M266.8 382.14h-1.9M266.8 379.73h-1.9M266.8 377.33h-1.9M266.8 374.92h-3.1M266.8 372.51h-1.9M266.8 370.11h-1.9M266.8 367.7h-1.9M266.8 365.3h-1.9M266.8 362.89h-3.1M266.8 360.48h-1.9M266.8 358.08h-1.9"/><path class="tkx" d="M266.8 447.1v3.3M274.37 447.1v2.3M278.8 447.1v2.3M281.94 447.1v2.3M284.38 447.1v2.3M286.37 447.1v2.3M288.05 447.1v2.3M289.51 447.1v2.3M290.8 447.1v2.3M291.95 447.1v3.3M299.52 447.1v2.3M303.95 447.1v2.3M307.09 447.1v2.3M309.53 447.1v2.3M311.52 447.1v2.3M313.2 447.1v2.3M314.66 447.1v2.3M315.95 447.1v2.3M317.1 447.1v3.3M324.67 447.1v2.3M329.1 447.1v2.3M332.24 447.1v2.3M334.68 447.1v2.3M336.67 447.1v2.3M338.35 447.1v2.3M339.81 447.1v2.3M341.1 447.1v2.3M342.25 447.1v3.3M349.82 447.1v2.3M354.25 447.1v2.3M357.39 447.1v2.3M359.83 447.1v2.3M361.82 447.1v2.3M363.5 447.1v2.3M364.96 447.1v2.3M366.25 447.1v2.3M367.4 447.1v3.2"/><text class="tl" transform="translate(261.1 445.4) rotate(-90) scale(0.94 1)" text-anchor="middle">0</text><text class="tl" transform="translate(261.1 433.37) rotate(-90) scale(0.94 1)" text-anchor="middle">10</text><text class="tl" transform="translate(261.1 421.34) rotate(-90) scale(0.94 1)" text-anchor="middle">20</text><text class="tl" transform="translate(261.1 409.31) rotate(-90) scale(0.94 1)" text-anchor="middle">30</text><text class="tl" transform="translate(261.1 397.28) rotate(-90) scale(0.94 1)" text-anchor="middle">40</text><text class="tl" transform="translate(261.1 385.25) rotate(-90) scale(0.94 1)" text-anchor="middle">50</text><text class="tl" transform="translate(261.1 373.22) rotate(-90) scale(0.94 1)" text-anchor="middle">60</text><text class="tl" transform="translate(261.1 361.19) rotate(-90) scale(0.94 1)" text-anchor="middle">70</text><text class="al" transform="translate(253.3 402.6) rotate(-90)" text-anchor="middle">Counts</text><text class="tl" transform="translate(271 455.1) scale(0.94 1)" text-anchor="middle">0</text><text class="tl" transform="translate(292.85 459) scale(0.94 1)" text-anchor="end">10</text><text class="tl" transform="translate(293.15 455.1) scale(0.94 1)">1</text><text class="tl" transform="translate(318 459) scale(0.94 1)" text-anchor="end">10</text><text class="tl" transform="translate(318.3 455.1) scale(0.94 1)">2</text><text class="tl" transform="translate(343.15 459) scale(0.94 1)" text-anchor="end">10</text><text class="tl" transform="translate(343.45 455.1) scale(0.94 1)">3</text><text class="tl" transform="translate(368.3 459) scale(0.94 1)" text-anchor="end">10</text><text class="tl" transform="translate(368.6 455.1) scale(0.94 1)">4</text><text class="fl" x="315.9" y="466" text-anchor="middle">FL2-H</text><text class="tt" x="310.7" y="354.4" text-anchor="middle">IC.007</text><polyline class="cv" points="267.46,428.92 267.81,431.81 268.85,430.08 269.77,431.81 270.35,435.85 270.92,434.4 271.5,433.54 272.08,433.25 272.65,432.96 273.23,432.14 273.81,432.38 274.38,431.54 274.96,431.23 275.88,427.77 276.69,432.38 277.27,423.73 278.08,430.08 279,424.31 279.58,422.52 280.15,422 280.73,420.97 281.31,420.27 282.23,417.96 283.04,415.65 283.85,425.46 284.77,419.69 285.69,414.5 286.5,415.65 287.42,417.96 288.23,421.42 289.04,416.81 289.96,420.85 290.77,417.96 291.46,412.19 292.27,414.5 293.08,418.54 294,422.58 294.92,420.85 295.73,423.15 296.31,416.15 296.85,419.22 297.38,423.85 298.15,425.09 298.92,427.69 299.69,426.27 300.46,425.38 301.08,426.56 301.69,428.46 302.38,427.81 303.08,426.92 303.85,428.88 304.62,430.77 305.38,431.82 306.15,432.31 306.92,431.72 307.69,430.77 308.46,432.54 309.23,433.85 310,434.98 310.77,435.38 311.54,436.05 312.31,436.92 313.08,436.62 313.85,436.62 314.62,437.94 315.38,438.46 316.15,439.13 316.92,440.31 317.54,440.92 318.15,441.23 318.92,439.57 319.69,437.69 320.46,438.66 321.23,440.31 322,440.77 322.77,440.77 323.38,440.88 324,440.55 324.62,440.31 325.38,440.93 326.15,441.23 326.77,440.45 327.38,439.23 328.15,439.98 328.92,441.23 329.69,441.55 330.46,441.85 331.23,442.46 332,443.08 332.77,443.11 333.54,442.77 334.31,443.47 335.08,443.85 335.85,443.86 336.62,443.54 337.38,444.27 338.15,444.92 338.77,445.25 339.38,445.31 340,445.38 340.67,445.37 341.33,445.06 342,445.08 342.77,445.08 343.54,445.33 344.31,445.69 345.08,445.69 345.85,445.63 346.62,445.85 347.38,446.19 348.15,446.28 348.92,446.46 349.69,446.41 350.46,446.31 351.23,446.15 352,446.02 352.77,445.74 353.54,445.54 354.31,445.88 355.08,446.62 355.85,446.35 356.62,445.85 357.23,445.75 357.85,445.44 358.46,445.23 359.13,445.55 359.79,445.91 360.46,446.15 361.13,446.09 361.79,446.45 362.46,446.46 363.08,446.16 363.69,445.88 364.31,445.85 365.08,445.59 365.85,445.64 366.62,445.38"/></g><g><rect class="ax" x="410.3" y="355.7" width="101.8" height="90.3"/><path class="tk" d="M410.3 446h-3.1M410.3 443.59h-1.9M410.3 441.19h-1.9M410.3 438.78h-1.9M410.3 436.38h-1.9M410.3 433.97h-3.1M410.3 431.56h-1.9M410.3 429.16h-1.9M410.3 426.75h-1.9M410.3 424.35h-1.9M410.3 421.94h-3.1M410.3 419.53h-1.9M410.3 417.13h-1.9M410.3 414.72h-1.9M410.3 412.32h-1.9M410.3 409.91h-3.1M410.3 407.5h-1.9M410.3 405.1h-1.9M410.3 402.69h-1.9M410.3 400.29h-1.9M410.3 397.88h-3.1M410.3 395.47h-1.9M410.3 393.07h-1.9M410.3 390.66h-1.9M410.3 388.26h-1.9M410.3 385.85h-3.1M410.3 383.44h-1.9M410.3 381.04h-1.9M410.3 378.63h-1.9M410.3 376.23h-1.9M410.3 373.82h-3.1M410.3 371.41h-1.9M410.3 369.01h-1.9M410.3 366.6h-1.9M410.3 364.2h-1.9M410.3 361.79h-3.1M410.3 359.38h-1.9M410.3 356.98h-1.9"/><path class="tkx" d="M410.3 446v3.3M417.96 446v2.3M422.44 446v2.3M425.62 446v2.3M428.09 446v2.3M430.1 446v2.3M431.81 446v2.3M433.28 446v2.3M434.59 446v2.3M435.75 446v3.3M443.41 446v2.3M447.89 446v2.3M451.07 446v2.3M453.54 446v2.3M455.55 446v2.3M457.26 446v2.3M458.73 446v2.3M460.04 446v2.3M461.2 446v3.3M468.86 446v2.3M473.34 446v2.3M476.52 446v2.3M478.99 446v2.3M481 446v2.3M482.71 446v2.3M484.18 446v2.3M485.49 446v2.3M486.65 446v3.3M494.31 446v2.3M498.79 446v2.3M501.97 446v2.3M504.44 446v2.3M506.45 446v2.3M508.16 446v2.3M509.63 446v2.3M510.94 446v2.3M512.1 446v3.2"/><text class="tl" transform="translate(404.6 444.3) rotate(-90) scale(0.94 1)" text-anchor="middle">0</text><text class="tl" transform="translate(404.6 432.27) rotate(-90) scale(0.94 1)" text-anchor="middle">10</text><text class="tl" transform="translate(404.6 420.24) rotate(-90) scale(0.94 1)" text-anchor="middle">20</text><text class="tl" transform="translate(404.6 408.21) rotate(-90) scale(0.94 1)" text-anchor="middle">30</text><text class="tl" transform="translate(404.6 396.18) rotate(-90) scale(0.94 1)" text-anchor="middle">40</text><text class="tl" transform="translate(404.6 384.15) rotate(-90) scale(0.94 1)" text-anchor="middle">50</text><text class="tl" transform="translate(404.6 372.12) rotate(-90) scale(0.94 1)" text-anchor="middle">60</text><text class="tl" transform="translate(404.6 360.09) rotate(-90) scale(0.94 1)" text-anchor="middle">70</text><text class="al" transform="translate(396.8 401.35) rotate(-90)" text-anchor="middle">Counts</text><text class="tl" transform="translate(414.5 454) scale(0.94 1)" text-anchor="middle">0</text><text class="tl" transform="translate(436.65 457.9) scale(0.94 1)" text-anchor="end">10</text><text class="tl" transform="translate(436.95 454) scale(0.94 1)">1</text><text class="tl" transform="translate(462.1 457.9) scale(0.94 1)" text-anchor="end">10</text><text class="tl" transform="translate(462.4 454) scale(0.94 1)">2</text><text class="tl" transform="translate(487.55 457.9) scale(0.94 1)" text-anchor="end">10</text><text class="tl" transform="translate(487.85 454) scale(0.94 1)">3</text><text class="tl" transform="translate(513 457.9) scale(0.94 1)" text-anchor="end">10</text><text class="tl" transform="translate(513.3 454) scale(0.94 1)">4</text><text class="fl" x="460" y="464.9" text-anchor="middle">FL2-H</text><text class="tt" x="454.8" y="353" text-anchor="middle">IC.006</text><polyline class="cv" points="411.12,393.46 411.46,426.92 412.38,428.65 413.19,434.42 414,431.54 414.92,426.92 415.85,422.31 416.65,430.38 417.46,423.46 418.38,417.69 419.19,426.35 419.88,421.73 420.69,424.62 421.62,414.81 422.42,423.46 423.23,419.42 424.15,421.15 425.08,417.12 425.88,420.58 426.69,416.54 427.62,418.85 428.54,410.19 429.35,419.42 430.15,414.81 431.08,418.27 431.88,414.23 432.58,409.62 433.38,418.85 434.31,414.81 435.23,414.23 436.04,416.54 436.85,420.58 437.77,422.88 438.69,421.73 439.62,421.15 440.54,424.62 440.62,426.92 441.38,427.32 442.15,428.46 442.92,430.28 443.69,431.54 444.46,432.8 445.23,433.08 446,433.46 446.77,433.85 447.54,434.89 448.31,436.15 449.08,437.29 449.85,438.46 450.62,437.83 451.38,436.92 452.15,438.28 452.92,439.23 453.54,437.78 454.15,436.15 454.92,438.57 455.69,440.77 456.31,439.99 456.92,439.51 457.54,439.23 458.31,440.07 459.08,441.23 459.85,440.61 460.62,439.69 461.38,440.49 462.15,441.54 462.92,440.04 463.69,438.46 464.31,438.63 464.92,439.19 465.54,440 466.21,440.26 466.87,440.93 467.54,441.23 468.31,441.55 469.08,441.74 469.85,441.85 470.62,441.63 471.38,441.65 472.15,441.54 472.92,441.67 473.69,441.83 474.46,442 475.23,441.63 476,441.91 476.77,441.54 477.54,441.47 478.31,442.01 479.08,441.85 479.85,441.74 480.62,440.84 481.38,440.77 482.15,441.36 482.92,442 483.69,441.62 484.46,441.16 485.23,440.31 486,441.05 486.77,441.85 487.54,441.51 488.31,441.27 489.08,441.23 489.85,441.74 490.62,441.58 491.38,442 492.15,441.99 492.92,441.7 493.69,441.85 494.46,442.01 495.23,442.4 496,442.31 496.77,442.01 497.54,442.28 498.31,442 498.97,441.44 499.64,441.11 500.31,440.31 501.08,441.81 501.85,443.08 502.46,442.84 503.08,443.07 503.69,442.77 504.46,443.02 505.23,443.05 506,443.54 506.77,443.41 507.54,443.74 508.31,443.85 509.08,444.08 509.85,444.27 510.62,444.62"/></g><g><rect class="ax" x="121.3" y="494" width="101.5" height="86.8"/><path class="tk" d="M121.3 580.8h-3.1M121.3 577.68h-1.9M121.3 574.56h-1.9M121.3 571.44h-1.9M121.3 568.32h-1.9M121.3 565.2h-3.1M121.3 562.08h-1.9M121.3 558.96h-1.9M121.3 555.84h-1.9M121.3 552.72h-1.9M121.3 549.6h-3.1M121.3 546.48h-1.9M121.3 543.36h-1.9M121.3 540.24h-1.9M121.3 537.12h-1.9M121.3 534h-3.1M121.3 530.88h-1.9M121.3 527.76h-1.9M121.3 524.64h-1.9M121.3 521.52h-1.9M121.3 518.4h-3.1M121.3 515.28h-1.9M121.3 512.16h-1.9M121.3 509.04h-1.9M121.3 505.92h-1.9M121.3 502.8h-3.1M121.3 499.68h-1.9M121.3 496.56h-1.9"/><path class="tkx" d="M121.3 580.8v3.3M128.94 580.8v2.3M133.41 580.8v2.3M136.58 580.8v2.3M139.04 580.8v2.3M141.05 580.8v2.3M142.74 580.8v2.3M144.22 580.8v2.3M145.51 580.8v2.3M146.68 580.8v3.3M154.31 580.8v2.3M158.78 580.8v2.3M161.95 580.8v2.3M164.41 580.8v2.3M166.42 580.8v2.3M168.12 580.8v2.3M169.59 580.8v2.3M170.89 580.8v2.3M172.05 580.8v3.3M179.69 580.8v2.3M184.16 580.8v2.3M187.33 580.8v2.3M189.79 580.8v2.3M191.8 580.8v2.3M193.49 580.8v2.3M194.97 580.8v2.3M196.26 580.8v2.3M197.43 580.8v3.3M205.06 580.8v2.3M209.53 580.8v2.3M212.7 580.8v2.3M215.16 580.8v2.3M217.17 580.8v2.3M218.87 580.8v2.3M220.34 580.8v2.3M221.64 580.8v2.3M222.8 580.8v3.2"/><text class="tl" transform="translate(115 579.6) rotate(-90) scale(0.94 1)" text-anchor="middle">0</text><text class="tl" transform="translate(115 564) rotate(-90) scale(0.94 1)" text-anchor="middle">10</text><text class="tl" transform="translate(115 548.4) rotate(-90) scale(0.94 1)" text-anchor="middle">20</text><text class="tl" transform="translate(115 532.8) rotate(-90) scale(0.94 1)" text-anchor="middle">30</text><text class="tl" transform="translate(115 517.2) rotate(-90) scale(0.94 1)" text-anchor="middle">40</text><text class="tl" transform="translate(115 501.6) rotate(-90) scale(0.94 1)" text-anchor="middle">50</text><text class="al" transform="translate(107.8 537.9) rotate(-90)" text-anchor="middle">Counts</text><text class="tl" transform="translate(125.5 588.1) scale(0.94 1)" text-anchor="middle">0</text><text class="tl" transform="translate(147.58 592) scale(0.94 1)" text-anchor="end">10</text><text class="tl" transform="translate(147.88 588.1) scale(0.94 1)">1</text><text class="tl" transform="translate(172.95 592) scale(0.94 1)" text-anchor="end">10</text><text class="tl" transform="translate(173.25 588.1) scale(0.94 1)">2</text><text class="tl" transform="translate(198.33 592) scale(0.94 1)" text-anchor="end">10</text><text class="tl" transform="translate(198.62 588.1) scale(0.94 1)">3</text><text class="tl" transform="translate(223.7 592) scale(0.94 1)" text-anchor="end">10</text><text class="tl" transform="translate(224 588.1) scale(0.94 1)">4</text><text class="fl" x="170.85" y="598.65" text-anchor="middle">FL2-H</text><text class="tt" x="165.65" y="491.3" text-anchor="middle">IC.015</text><polyline class="cv" points="122.04,530.92 122.38,566.12 123.19,570.15 124,565.54 124.92,568.42 125.85,569.58 126.65,566.69 127.23,566.61 127.81,567.27 128.62,569 129.54,566.12 130.46,560.92 131.27,563.81 132.08,567.85 133,562.08 133.92,558.04 134.73,562.65 135.54,555.73 136.46,548.81 137.38,552.27 138.19,551.12 139,556.31 139.92,551.12 140.85,552.85 141.65,548.23 142.58,545.35 143.38,541.88 144.31,538.42 145.23,537.27 146.27,536.12 147.08,539 148,543.04 148.92,533.23 149.73,536.69 150.65,535.54 151.46,538.42 152.38,539.58 153.31,541.88 154.35,539.58 154.92,538.62 155.5,538.42 156.08,538.26 156.65,539 157.23,539.72 157.81,538.77 158.62,541.88 159.54,545.92 160.46,544.19 161.38,547.65 162.42,549.96 163.35,552.27 164.15,548.81 164.92,557.38 165.54,555.05 166.15,554.31 166.69,553.59 167.23,552 167.77,556.77 168.31,560.46 168.92,561.12 169.54,562.77 170.31,562.55 171.08,561.23 171.85,563.04 172.62,564.31 173.38,565.53 174.15,565.85 174.92,566.24 175.69,567.08 176.46,567.49 177.23,568.15 178,568.82 178.77,569.69 179.54,571.27 180.31,572 181.08,570.92 181.85,569.69 182.46,568.56 183.08,567.69 183.69,568.24 184.31,568.92 185,570.89 185.69,573.23 186.46,573.45 187.23,574.31 188,574.43 188.77,575.08 189.54,575.67 190.31,575.85 190.97,575.61 191.64,575.91 192.31,575.54 192.92,575.75 193.54,576.12 194.15,576.62 194.77,576.47 195.38,576.13 196,576.15 196.67,576.39 197.33,577.02 198,577.08 198.67,576.88 199.33,576.44 200,575.85 200.62,576.28 201.23,576.8 201.85,576.92 202.46,577.06 203.08,576.75 203.69,576.62 204.36,577.09 205.03,577.1 205.69,577.69 206.36,577.71 207.03,577.46 207.69,577.38 208.31,577.87 208.92,578.17 209.54,578.46 210.31,578.52 211.08,578.57 211.85,578.92 212.51,578.86 213.18,578.24 213.85,578.15 214.46,578.65 215.08,579.11 215.69,579.69 216.31,579.09 216.92,578.78 217.54,578.15 218.31,579.28 219.08,580 219.74,579.7 220.41,579.65 221.08,579.38 221.69,579.61 222.31,580"/></g><g><rect class="ax" x="267.7" y="494" width="100.5" height="85.7"/><path class="tk" d="M267.7 579.7h-3.1M267.7 576.58h-1.9M267.7 573.46h-1.9M267.7 570.34h-1.9M267.7 567.22h-1.9M267.7 564.1h-3.1M267.7 560.98h-1.9M267.7 557.86h-1.9M267.7 554.74h-1.9M267.7 551.62h-1.9M267.7 548.5h-3.1M267.7 545.38h-1.9M267.7 542.26h-1.9M267.7 539.14h-1.9M267.7 536.02h-1.9M267.7 532.9h-3.1M267.7 529.78h-1.9M267.7 526.66h-1.9M267.7 523.54h-1.9M267.7 520.42h-1.9M267.7 517.3h-3.1M267.7 514.18h-1.9M267.7 511.06h-1.9M267.7 507.94h-1.9M267.7 504.82h-1.9M267.7 501.7h-3.1M267.7 498.58h-1.9M267.7 495.46h-1.9"/><path class="tkx" d="M267.7 579.7v3.3M275.26 579.7v2.3M279.69 579.7v2.3M282.83 579.7v2.3M285.26 579.7v2.3M287.25 579.7v2.3M288.93 579.7v2.3M290.39 579.7v2.3M291.68 579.7v2.3M292.82 579.7v3.3M300.39 579.7v2.3M304.81 579.7v2.3M307.95 579.7v2.3M310.39 579.7v2.3M312.38 579.7v2.3M314.06 579.7v2.3M315.52 579.7v2.3M316.8 579.7v2.3M317.95 579.7v3.3M325.51 579.7v2.3M329.94 579.7v2.3M333.08 579.7v2.3M335.51 579.7v2.3M337.5 579.7v2.3M339.18 579.7v2.3M340.64 579.7v2.3M341.93 579.7v2.3M343.07 579.7v3.3M350.64 579.7v2.3M355.06 579.7v2.3M358.2 579.7v2.3M360.64 579.7v2.3M362.63 579.7v2.3M364.31 579.7v2.3M365.77 579.7v2.3M367.05 579.7v2.3M368.2 579.7v3.2"/><text class="tl" transform="translate(261.4 578.5) rotate(-90) scale(0.94 1)" text-anchor="middle">0</text><text class="tl" transform="translate(261.4 562.9) rotate(-90) scale(0.94 1)" text-anchor="middle">10</text><text class="tl" transform="translate(261.4 547.3) rotate(-90) scale(0.94 1)" text-anchor="middle">20</text><text class="tl" transform="translate(261.4 531.7) rotate(-90) scale(0.94 1)" text-anchor="middle">30</text><text class="tl" transform="translate(261.4 516.1) rotate(-90) scale(0.94 1)" text-anchor="middle">40</text><text class="tl" transform="translate(261.4 500.5) rotate(-90) scale(0.94 1)" text-anchor="middle">50</text><text class="al" transform="translate(254.2 537.35) rotate(-90)" text-anchor="middle">Counts</text><text class="tl" transform="translate(271.9 587) scale(0.94 1)" text-anchor="middle">0</text><text class="tl" transform="translate(293.72 590.9) scale(0.94 1)" text-anchor="end">10</text><text class="tl" transform="translate(294.02 587) scale(0.94 1)">1</text><text class="tl" transform="translate(318.85 590.9) scale(0.94 1)" text-anchor="end">10</text><text class="tl" transform="translate(319.15 587) scale(0.94 1)">2</text><text class="tl" transform="translate(343.97 590.9) scale(0.94 1)" text-anchor="end">10</text><text class="tl" transform="translate(344.27 587) scale(0.94 1)">3</text><text class="tl" transform="translate(369.1 590.9) scale(0.94 1)" text-anchor="end">10</text><text class="tl" transform="translate(369.4 587) scale(0.94 1)">4</text><text class="fl" x="316.75" y="597.55" text-anchor="middle">FL2-H</text><text class="tt" x="311.55" y="491.3" text-anchor="middle">IC.017</text><polyline class="cv" points="268.04,527.46 268.38,565.54 269.19,569.58 270,563.81 270.92,565.54 271.85,567.85 272.65,564.96 273.23,564.74 273.81,564.38 274.38,563.98 274.96,563.81 275.77,565.54 276.69,563.23 277.27,561.96 277.85,561.5 278.42,560.19 279,559.77 279.58,557.91 280.15,556.88 281.08,559.19 281.88,555.73 282.69,557.46 283.62,552.85 284.54,548.81 285.35,553.42 286.15,547.08 286.85,541.31 287.65,545.35 288.46,541.88 289.38,537.27 290.31,539.58 291.23,538.42 292.27,539 293.08,534.38 293.77,538.42 294.58,541.31 295.38,537.27 296.31,538.42 297.23,540.15 298.04,536.12 298.96,533.23 299.77,531.5 300.46,529.19 301.15,533.81 302.08,539 303,542.46 303.81,545.35 304.44,545.68 305.08,544.31 305.69,547.38 306.31,550.46 307.08,548 307.85,546.62 308.46,547.05 309.08,545.85 309.62,549.86 310.15,552 310.69,553.46 311.23,555.08 311.85,554.12 312.46,554.31 313.08,556.15 313.69,558.92 314.23,559.92 314.77,562 315.54,561.26 316.31,560.92 317.08,561.73 317.85,563.54 318.62,564.02 319.38,565.08 320.15,565.36 320.92,566.15 321.69,566.99 322.46,567.69 323.23,568.51 324,568.62 324.62,567.09 325.23,565.08 325.92,566.91 326.62,568.92 327.38,569.62 328.15,570.46 328.92,571.4 329.69,572.31 330.31,572.84 330.92,573.54 331.54,571.49 332.15,569.69 332.77,571.68 333.38,574.31 334,573.16 334.62,572.31 335.23,570.99 335.85,568.92 336.46,570.78 337.08,573.23 337.85,573.77 338.62,574.31 339.38,574.77 340.15,575.08 340.77,575.44 341.38,575.22 342,575.54 342.67,575.15 343.33,574.88 344,574.77 344.77,575.1 345.54,575.54 346.31,574.51 347.08,573.54 347.85,575.49 348.62,576.92 349.38,576.56 350.15,575.85 350.82,576.2 351.49,575.9 352.15,576.31 352.77,576.43 353.38,577.13 354,577.38 354.77,577.19 355.54,576.62 356.31,577.53 357.08,578.46 357.85,578.19 358.62,577.85 359.38,578.18 360.15,578.92 360.92,577.1 361.69,575.38 362.23,577.58 362.77,579.38 363.62,578.9 364.46,578.15 365.23,578.76 366,579.08 366.77,578.81 367.54,578.15"/></g><g><rect class="ax" x="412.1" y="494.8" width="97.4" height="82.7"/><path class="tk" d="M412.1 577.5h-3.1M412.1 574.49h-1.9M412.1 571.48h-1.9M412.1 568.47h-1.9M412.1 565.46h-1.9M412.1 562.46h-3.1M412.1 559.45h-1.9M412.1 556.44h-1.9M412.1 553.43h-1.9M412.1 550.42h-1.9M412.1 547.41h-3.1M412.1 544.4h-1.9M412.1 541.39h-1.9M412.1 538.39h-1.9M412.1 535.38h-1.9M412.1 532.37h-3.1M412.1 529.36h-1.9M412.1 526.35h-1.9M412.1 523.34h-1.9M412.1 520.33h-1.9M412.1 517.32h-3.1M412.1 514.32h-1.9M412.1 511.31h-1.9M412.1 508.3h-1.9M412.1 505.29h-1.9M412.1 502.28h-3.1M412.1 499.27h-1.9M412.1 496.26h-1.9"/><path class="tkx" d="M412.1 577.5v3.3M419.43 577.5v2.3M423.72 577.5v2.3M426.76 577.5v2.3M429.12 577.5v2.3M431.05 577.5v2.3M432.68 577.5v2.3M434.09 577.5v2.3M435.34 577.5v2.3M436.45 577.5v3.3M443.78 577.5v2.3M448.07 577.5v2.3M451.11 577.5v2.3M453.47 577.5v2.3M455.4 577.5v2.3M457.03 577.5v2.3M458.44 577.5v2.3M459.69 577.5v2.3M460.8 577.5v3.3M468.13 577.5v2.3M472.42 577.5v2.3M475.46 577.5v2.3M477.82 577.5v2.3M479.75 577.5v2.3M481.38 577.5v2.3M482.79 577.5v2.3M484.04 577.5v2.3M485.15 577.5v3.3M492.48 577.5v2.3M496.77 577.5v2.3M499.81 577.5v2.3M502.17 577.5v2.3M504.1 577.5v2.3M505.73 577.5v2.3M507.14 577.5v2.3M508.39 577.5v2.3M509.5 577.5v3.2"/><text class="tl" transform="translate(405.8 576.3) rotate(-90) scale(0.94 1)" text-anchor="middle">0</text><text class="tl" transform="translate(405.8 561.26) rotate(-90) scale(0.94 1)" text-anchor="middle">10</text><text class="tl" transform="translate(405.8 546.21) rotate(-90) scale(0.94 1)" text-anchor="middle">20</text><text class="tl" transform="translate(405.8 531.17) rotate(-90) scale(0.94 1)" text-anchor="middle">30</text><text class="tl" transform="translate(405.8 516.12) rotate(-90) scale(0.94 1)" text-anchor="middle">40</text><text class="tl" transform="translate(405.8 501.08) rotate(-90) scale(0.94 1)" text-anchor="middle">50</text><text class="al" transform="translate(397.9 536.65) rotate(-90)" text-anchor="middle">Counts</text><text class="tl" transform="translate(416.3 584.8) scale(0.94 1)" text-anchor="middle">0</text><text class="tl" transform="translate(437.35 588.7) scale(0.94 1)" text-anchor="end">10</text><text class="tl" transform="translate(437.65 584.8) scale(0.94 1)">1</text><text class="tl" transform="translate(461.7 588.7) scale(0.94 1)" text-anchor="end">10</text><text class="tl" transform="translate(462 584.8) scale(0.94 1)">2</text><text class="tl" transform="translate(486.05 588.7) scale(0.94 1)" text-anchor="end">10</text><text class="tl" transform="translate(486.35 584.8) scale(0.94 1)">3</text><text class="tl" transform="translate(510.4 588.7) scale(0.94 1)" text-anchor="end">10</text><text class="tl" transform="translate(510.7 584.8) scale(0.94 1)">4</text><text class="fl" x="459.6" y="595.35" text-anchor="middle">FL2-H</text><text class="tt" x="454.4" y="492.1" text-anchor="middle">IC.016</text><polyline class="cv" points="412.62,530.92 412.96,563.23 414,564.96 414.92,568.42 415.73,564.96 416.65,566.12 417.46,563.23 418.38,564.96 419.08,560.92 419.88,566.12 420.69,563.23 421.62,558.62 422.42,560.92 423.23,554.58 424.15,552.85 424.85,548.81 425.54,554 426.46,549.96 427.38,548.81 428.31,551.69 429.23,552.85 430.15,548.81 431.08,547.08 432,544.19 432.81,546.5 433.62,551.12 434.31,544.77 435.23,539.58 436.04,547.08 436.85,543.62 437.65,545.92 438.46,540.73 439.38,545.35 440.31,547.08 441.23,548.23 441.85,543.54 442.62,549.69 443.15,550.81 443.69,552.77 444.46,554.11 445.23,556.62 446,558.09 446.77,560.46 447.54,562.03 448.31,563.54 449.08,564.11 449.85,564.31 450.46,564 451.08,562.77 451.62,564.15 452.15,565.08 452.69,567.13 453.23,568.92 454.15,563.54 454.69,566.09 455.23,568.15 455.77,566.58 456.31,565.08 456.92,565.89 457.54,566.62 458.15,565.02 458.77,564.31 459.31,566.49 459.85,568.15 460.62,567.55 461.38,567.38 462.15,568.5 462.92,568.92 463.69,569.42 464.46,569.69 465.23,572 465.85,570.32 466.46,568.92 467.23,568.24 468,568.15 468.54,566.78 469.08,565.85 469.62,567.5 470.15,568.92 470.92,568.47 471.69,567.69 472.31,568.39 472.92,569.69 473.54,568.2 474.15,567.38 474.92,567.79 475.69,568.15 476.46,567.46 477.23,566.62 478,564.19 478.77,562 479.54,562.86 480.31,564.31 481.08,564.03 481.85,563.54 482.62,563.58 483.38,564.62 484.15,564.11 484.92,564 485.46,565.27 486,566.62 486.62,565.52 487.23,563.54 487.77,562.16 488.31,560.46 488.92,562.05 489.54,562.77 490.08,561.05 490.62,559.38 491.15,559.6 491.69,560.46 492.31,559.38 492.92,558.92 493.69,565.08 494.62,555.08 495.15,558.38 495.69,560.46 496.23,559.95 496.77,558.92 497.38,559.84 498,561.23 498.54,559.89 499.08,559.69 499.69,560.07 500.31,560.46 500.85,559.53 501.38,558.15 501.92,559.98 502.46,562 503.38,559.69 504.31,555.08 505.23,561.23 505.85,560.56 506.46,560.46 507,561.81 507.54,562.77 508.08,563.61 508.62,563.54 509.38,577.38"/></g><text class="big" x="6.3" y="17.9" style="letter-spacing:1.05px">CD45</text><text class="big" x="2.2" y="335.5" style="letter-spacing:1.5px">Thy 1.2</text><text class="ch" x="139.5" y="12" style="letter-spacing:0.68px">Control-IgG</text><text class="ch" x="274.9" y="11.3" style="letter-spacing:0.6px">E-Selectin-IgG</text><text class="ch" x="415.5" y="9.8" style="letter-spacing:0.8px">P-Selectin-IgG</text><text class="ch" x="139.5" y="332.4" style="letter-spacing:0.68px">Control-IgG</text><text class="ch" x="274.5" y="330.9" style="letter-spacing:0.62px">E-Selectin-IgG</text><text class="ch" x="415" y="328.4" style="letter-spacing:0.82px">P-Selectin-IgG</text><text class="rl" x="54.2" y="42.6" style="letter-spacing:0.9px">PLN</text><text class="rl" x="48.4" y="175.6" style="letter-spacing:1.3px">IC-EAE</text><text class="rl" x="54.2" y="362.5" style="letter-spacing:0.9px">PLN</text><text class="rl" x="48.4" y="495.4" style="letter-spacing:1.3px">IC-EAE</text><circle cx="178.5" cy="165.7" r="0.5" fill="#666"/></svg>
</body></html>
